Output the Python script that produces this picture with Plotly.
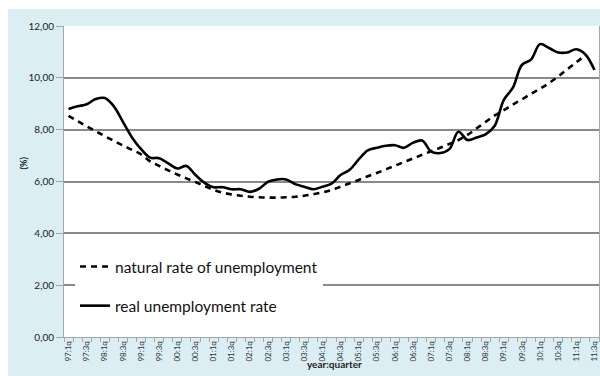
import plotly.graph_objects as go

# Quarterly labels 97:1q ... 11:3q
quarters = [f"{y % 100:02d}:{q}q" for y in range(1997, 2012) for q in range(1, 5)][:59]

real_rate = [
    8.80, 8.90, 8.98, 9.18, 9.22, 8.90, 8.30, 7.70, 7.25, 6.92,
    6.90, 6.70, 6.50, 6.60, 6.25, 5.95, 5.78, 5.78, 5.70, 5.70,
    5.60, 5.72, 5.99, 6.08, 6.08, 5.90, 5.80, 5.70, 5.80, 5.92,
    6.25, 6.45, 6.85, 7.20, 7.30, 7.38, 7.40, 7.30, 7.50, 7.58,
    7.15, 7.10, 7.25, 7.92, 7.60, 7.70, 7.82, 8.15, 9.15, 9.62,
    10.50, 10.70, 11.30, 11.15, 10.98, 10.98, 11.10, 10.90, 10.30,
]

natural_rate = [
    8.53, 8.33, 8.13, 7.94, 7.75, 7.57, 7.39, 7.22, 7.05, 6.78,
    6.60, 6.43, 6.27, 6.12, 5.98, 5.82, 5.68, 5.57, 5.50, 5.45,
    5.41, 5.39, 5.38, 5.38, 5.39, 5.41, 5.45, 5.51, 5.58, 5.67,
    5.80, 5.93, 6.06, 6.20, 6.33, 6.47, 6.61, 6.75, 6.89, 7.03,
    7.17, 7.30, 7.45, 7.60, 7.80, 8.05, 8.30, 8.55, 8.75, 8.97,
    9.17, 9.38, 9.58, 9.80, 10.05, 10.33, 10.60, 10.87,
]

label_idx = list(range(0, len(quarters), 2))
label_text = [quarters[i] for i in label_idx]

FONT = "Lato"
GRID = "#8a8a8a"
AXIS = "#a6a6a6"
PANEL = "#daeef3"

fig = go.Figure()
fig.add_trace(go.Scatter(
    x=list(range(len(natural_rate))), y=natural_rate,
    mode="lines", name="natural rate of unemployment",
    line=dict(color="black", width=2.6, dash="6px,5px", shape="spline"),
    legendgroup="a",
))
fig.add_trace(go.Scatter(
    x=list(range(len(real_rate))), y=real_rate,
    mode="lines", name="real unemployment rate",
    line=dict(color="black", width=2.6, shape="spline"),
    legendgroup="b",
))

fig.update_layout(
    width=600, height=376,
    margin=dict(l=64, r=1, t=26, b=39),
    paper_bgcolor=PANEL,
    plot_bgcolor="white",
    separators=", ",
    font=dict(family=FONT, color="#222222"),
    showlegend=True,
    legend=dict(
        x=0.0206, y=0.28, xanchor="left", yanchor="top",
        bgcolor="white", font=dict(size=15.5, family=FONT, color="#111111"),
        traceorder="grouped", tracegroupgap=16,
        itemwidth=30,
    ),
    xaxis=dict(
        range=[-0.5, len(quarters) - 0.5],
        tickvals=label_idx, ticktext=label_text,
        tickangle=-90, tickfont=dict(size=8, family=FONT, color="#333333"),
        ticks="", showgrid=False, zeroline=False,
        showline=True, linecolor=AXIS, linewidth=1,
        minor=dict(ticks="outside", tick0=-0.5, dtick=1, ticklen=4,
                   tickcolor=AXIS, showgrid=False),
    ),
    yaxis=dict(
        range=[0, 12], dtick=2, tickformat=".2f",
        tickfont=dict(size=10, family=FONT, color="#222222"),
        ticks="outside", ticklen=7, tickcolor=AXIS,
        showgrid=True, gridcolor=GRID, gridwidth=1.6,
        zeroline=False, showline=True, linecolor=AXIS, linewidth=1,
        mirror=True,
    ),
    shapes=[
        # white margin strips around the panel
        dict(type="rect", xref="paper", yref="paper",
             x0=-0.2, x1=1.1, y0=1.0547, y1=1.2,
             fillcolor="white", line=dict(width=0), layer="above"),
        dict(type="rect", xref="paper", yref="paper",
             x0=-0.2, x1=-0.1047, y0=-0.2, y1=1.2,
             fillcolor="white", line=dict(width=0), layer="above"),
    ],
    annotations=[
        dict(text="<b>(%)</b>", xref="paper", yref="paper",
             x=-0.0879, y=0.5595, textangle=-90, showarrow=False,
             font=dict(size=9, family=FONT, color="#222222")),
        dict(text="<b>year:quarter</b>", xref="paper", yref="paper",
             x=0.5047, y=-0.1125, showarrow=False,
             font=dict(size=10, family=FONT, color="#222222")),
    ],
)

fig.write_html("out.html")
